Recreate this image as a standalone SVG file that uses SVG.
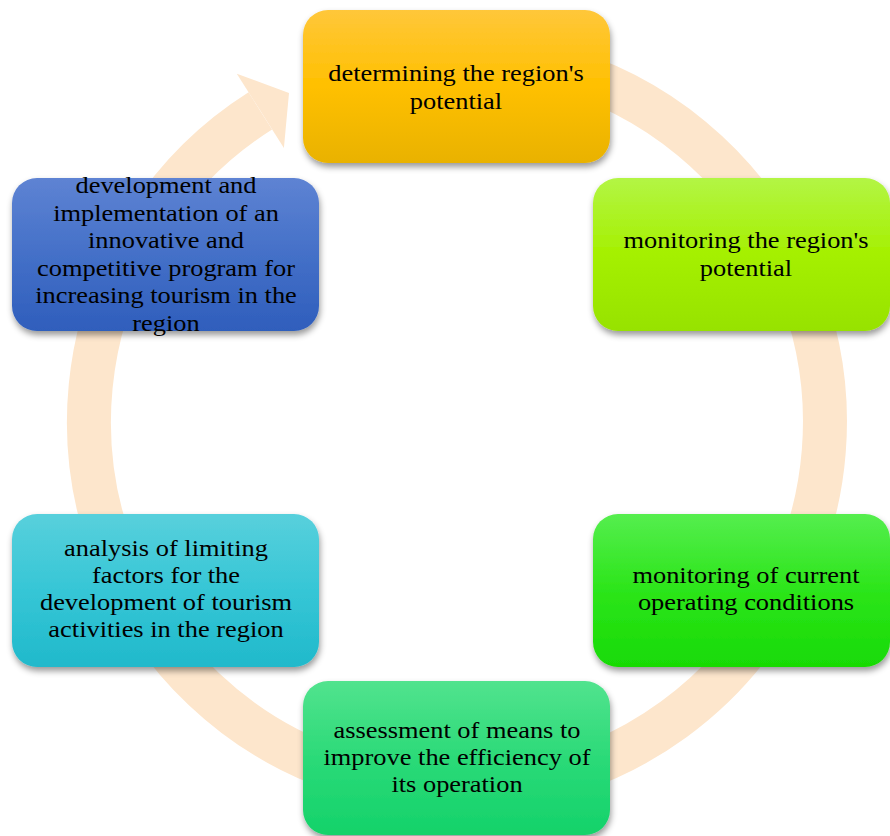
<svg xmlns="http://www.w3.org/2000/svg" width="890" height="836" viewBox="0 0 890 836">
<style>
.box{filter:url(#sh);}
.t text{font-family:"Liberation Serif","Times New Roman",serif;font-size:24px;fill:#000;text-anchor:middle;}
.ring{fill:none;stroke:#FDE6CC;stroke-width:44;}
.head{fill:#FDE6CC;}
</style>
<defs>
<filter id="sh" x="-10%" y="-10%" width="125%" height="130%">
<feDropShadow dx="1" dy="4" stdDeviation="3" flood-color="#000" flood-opacity="0.4"/>
</filter>
<linearGradient id="g1" x1="0" y1="0" x2="0" y2="1"><stop offset="0" stop-color="#FFC73A"/><stop offset="0.5" stop-color="#FFC000"/><stop offset="1" stop-color="#E9B200"/></linearGradient>
<linearGradient id="g2" x1="0" y1="0" x2="0" y2="1"><stop offset="0" stop-color="#B3F545"/><stop offset="0.5" stop-color="#A5F000"/><stop offset="1" stop-color="#97E200"/></linearGradient>
<linearGradient id="g3" x1="0" y1="0" x2="0" y2="1"><stop offset="0" stop-color="#55EE4E"/><stop offset="0.5" stop-color="#2CE51A"/><stop offset="1" stop-color="#18DA05"/></linearGradient>
<linearGradient id="g4" x1="0" y1="0" x2="0" y2="1"><stop offset="0" stop-color="#52E38E"/><stop offset="0.5" stop-color="#2BDA78"/><stop offset="1" stop-color="#14D26A"/></linearGradient>
<linearGradient id="g5" x1="0" y1="0" x2="0" y2="1"><stop offset="0" stop-color="#58D0DC"/><stop offset="0.5" stop-color="#36C6D6"/><stop offset="1" stop-color="#20B9CB"/></linearGradient>
<linearGradient id="g6" x1="0" y1="0" x2="0" y2="1"><stop offset="0" stop-color="#5E83D3"/><stop offset="0.5" stop-color="#4470C8"/><stop offset="1" stop-color="#2F5EBC"/></linearGradient>
</defs>
<rect width="890" height="836" fill="#fff"/>
<g id="connectors">
<path class="ring" d="M 552.2 66.5 A 368 368 0 1 1 260.3 110.9"/>
<polygon class="head" points="236.8,73.7 289,93 283.9,148.1"/>
</g>
<g id="node1">
<rect class="box" x="303" y="10" width="307" height="153" rx="25" fill="url(#g1)"/>
<g class="t" transform="translate(456,0) scale(1.1,1)"><text y="81">determining the region's</text><text y="109">potential</text></g>
</g>
<g id="node2">
<rect class="box" x="593" y="178" width="297" height="153" rx="25" fill="url(#g2)"/>
<g class="t" transform="translate(746,0) scale(1.1,1)"><text y="248">monitoring the region's</text><text y="276">potential</text></g>
</g>
<g id="node3">
<rect class="box" x="593" y="514" width="297" height="153" rx="25" fill="url(#g3)"/>
<g class="t" transform="translate(746,0) scale(1.1,1)"><text y="583">monitoring of current</text><text y="610">operating conditions</text></g>
</g>
<g id="node4">
<rect class="box" x="303" y="681" width="307" height="154" rx="25" fill="url(#g4)"/>
<g class="t" transform="translate(457,0) scale(1.1,1)"><text y="738">assessment of means to</text><text y="765">improve the efficiency of</text><text y="792">its operation</text></g>
</g>
<g id="node5">
<rect class="box" x="12" y="514" width="307" height="153" rx="25" fill="url(#g5)"/>
<g class="t" transform="translate(166,0) scale(1.1,1)"><text y="556">analysis of limiting</text><text y="583">factors for the</text><text y="610">development of tourism</text><text y="637">activities in the region</text></g>
</g>
<g id="node6">
<rect class="box" x="12" y="178" width="307" height="153" rx="25" fill="url(#g6)"/>
<g class="t" transform="translate(166,0) scale(1.1,1)"><text y="193">development and</text><text y="221">implementation of an</text><text y="248">innovative and</text><text y="276">competitive program for</text><text y="303">increasing tourism in the</text><text y="331">region</text></g>
</g>
</svg>
